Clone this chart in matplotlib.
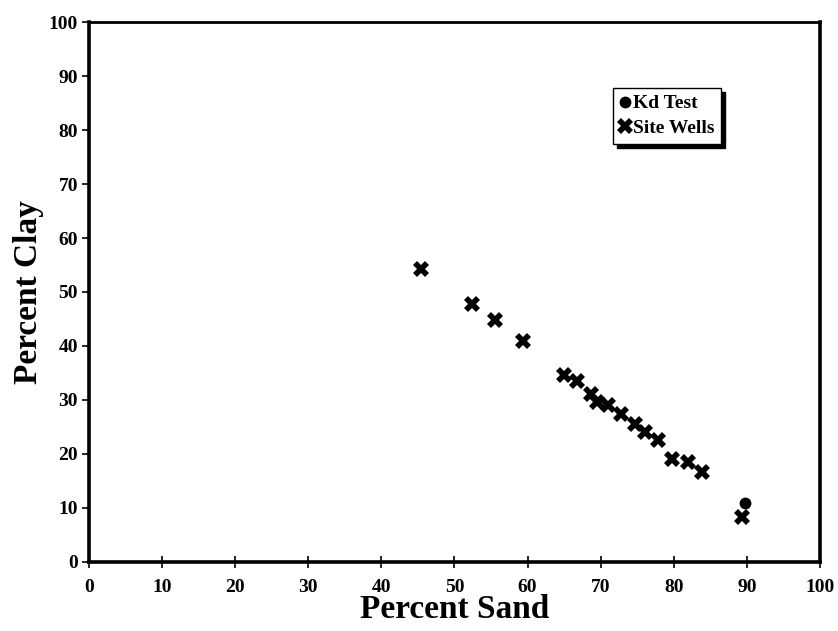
import matplotlib.pyplot as plt

plt.rcParams['font.family'] = ['Liberation Serif', 'DejaVu Serif']
plt.rcParams['font.weight'] = 'bold'

# Site well samples (percent sand, percent clay)
wells_sand = [45.4, 52.4, 55.6, 59.4, 65.0, 66.7, 68.7, 69.5, 71.0, 72.8,
              74.7, 76.1, 77.9, 79.7, 82.0, 83.8, 89.3]
wells_clay = [54.3, 47.7, 44.8, 40.9, 34.6, 33.6, 31.2, 29.7, 29.1, 27.4,
              25.5, 24.1, 22.6, 19.1, 18.6, 16.7, 8.4]

# Kd test sample
kd_sand = [89.7]
kd_clay = [11.0]

ticks = [0, 10, 20, 30, 40, 50, 60, 70, 80, 90, 100]

fig = plt.figure(figsize=(8.38, 6.31), dpi=100)
ax = fig.add_axes([0.1062, 0.1094, 0.8723, 0.8557])

ax.plot(kd_sand, kd_clay, 'o', color='black', markersize=7.5, label='Kd Test')
ax.plot(wells_sand, wells_clay, 'X', color='black', markersize=11,
        markeredgewidth=0, label='Site Wells')

ax.set_xlim(0, 100)
ax.set_ylim(0, 100)
ax.set_xticks(ticks)
ax.set_yticks(ticks)
ax.tick_params(axis='y', direction='out', length=5, width=1.2, labelsize=14, pad=3)
ax.tick_params(axis='x', direction='inout', length=8, width=1.2, labelsize=14, pad=8)
for lab in ax.get_xticklabels() + ax.get_yticklabels():
    lab.set_fontweight('bold')

for side in ['left', 'bottom', 'right']:
    ax.spines[side].set_linewidth(2.6)
ax.spines['top'].set_linewidth(2.0)

ax.set_xlabel('Percent Sand', fontsize=24, fontweight='bold', labelpad=-1)
ax.set_ylabel('Percent Clay', fontsize=24, fontweight='bold', labelpad=3)

leg = ax.legend(loc='upper left', bbox_to_anchor=(0.717, 0.878), frameon=True,
                fancybox=False, edgecolor='black', framealpha=1,
                shadow={'color': 'black', 'alpha': 1, 'ox': 3, 'oy': -3},
                handlelength=0.5, handletextpad=0.15, borderpad=0.35,
                borderaxespad=0, labelspacing=0.35,
                prop={'size': 14, 'weight': 'bold'})
leg.get_frame().set_linewidth(1.0)

fig.savefig('out.png', dpi=100)
